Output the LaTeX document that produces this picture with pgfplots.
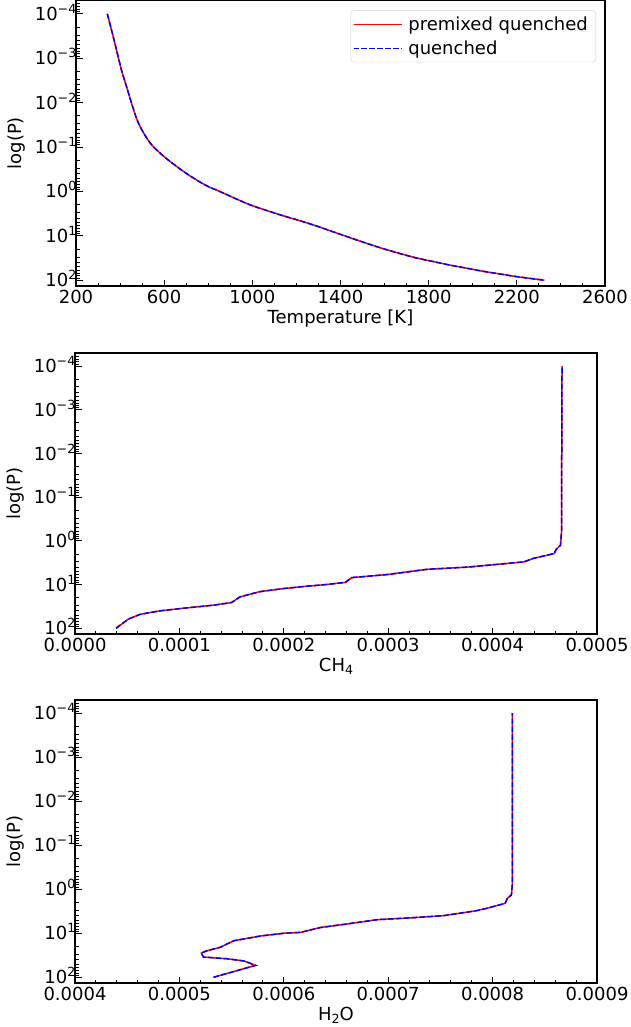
\documentclass[border=0pt]{standalone}
\usepackage{fontspec}
\setmainfont{DejaVu Sans}
\usepackage{pgfplots}
\pgfplotsset{compat=1.18}
\newcommand\tsup[1]{\raisebox{7pt}{\fontsize{12.6}{14}\selectfont #1}}
\newcommand\tsub[1]{\raisebox{-3.5pt}{\fontsize{12.6}{14}\selectfont #1}}
\newcommand\bigf{\fontsize{18}{21}\selectfont}
\tikzset{
  redline/.style={red, line width=1.5pt},
  blueline/.style={blue, line width=1.5pt, dash pattern=on 5.5pt off 2.4pt},
}
\pgfplotsset{
  every axis/.append style={
    scale only axis,
    ytick={1e-4,1e-3,1e-2,1e-1,1,10,100},
    yticklabels={10\tsup{−4},10\tsup{−3},10\tsup{−2},10\tsup{−1},10\tsup{0},10\tsup{1},10\tsup{2}},
    minor ytick={5e-5,6e-5,7e-5,8e-5,9e-5,
      2e-4,3e-4,4e-4,5e-4,6e-4,7e-4,8e-4,9e-4,
      2e-3,3e-3,4e-3,5e-3,6e-3,7e-3,8e-3,9e-3,
      2e-2,3e-2,4e-2,5e-2,6e-2,7e-2,8e-2,9e-2,
      0.2,0.3,0.4,0.5,0.6,0.7,0.8,0.9,
      2,3,4,5,6,7,8,9,
      20,30,40,50,60,70,80,90},
    tick align=inside, xtick pos=bottom, ytick pos=left,
    major tick length=6.5pt, minor tick length=3.5pt,
    every tick/.style={black, line width=1pt},
    axis line style={black, line width=1.1pt},
    scaled x ticks=false,
    tick label style={font=\bigf},
    xticklabel style={anchor=north, inner sep=0pt, yshift=-4pt},
    yticklabel style={anchor=base east, inner sep=0pt, xshift=0.5pt, yshift=-6.5pt},
    label style={font=\bigf},
    xlabel style={at={(axis description cs:0.5,0)}, anchor=north, inner sep=0pt, yshift=-23.5pt},
    ylabel={log(P)},
    ylabel style={anchor=south, inner sep=0pt},
  },
}
\begin{document}
\begin{tikzpicture}
\path[use as bounding box] (0pt,0pt) rectangle (630pt,-1027pt);
% ---------- Temperature ----------
\begin{axis}[
  ymode=log, y dir=reverse, ymin=5.0119e-5, ymax=1.35e2,
  at={(76pt,-286pt)}, anchor=south west,
  width=529pt, height=285.5pt,
  xmin=200, xmax=2600,
  xtick={200,600,1000,1400,1800,2200,2600},
  xticklabels={200,600,1000,1400,1800,2200,2600},
  minor x tick num=3,
  xlabel={Temperature [K]},
  ylabel style={at={(axis description cs:-0.0964,0.5)}},
  legend cell align=left,
  legend style={at={(0.983,0.965)}, anchor=north east, font=\bigf,
    draw=black!18, rounded corners=3pt, fill=white,
    inner xsep=2pt, inner ysep=4pt, row sep=5pt,
    nodes={inner xsep=6pt, inner ysep=2pt}},
  legend image code/.code={\draw (0pt,0pt) -- (39pt,0pt); \path (0pt,0pt) -- (48pt,0pt);},
]
\addplot[redline, smooth] coordinates {
(342,1e-4) (362,2.40e-4) (384.6,6.76e-4) (407,1.91e-3) (430,4.47e-3)
(453,1.07e-2) (478,2.51e-2) (505,4.68e-2) (543,8.91e-2) (589,0.148)
(641,0.240) (702,0.398) (763,0.617) (808,0.813) (838,0.933) (914,1.38)
(989,2.00) (1065,2.69) (1141,3.55) (1216,4.57) (1292,6.03) (1367,8.13)
(1443,11.0) (1519,14.8) (1594,19.5) (1670,25.1) (1745,31.6) (1821,38.0)
(1897,45.7) (1973,53.7) (2048,63.1) (2124,72.4) (2200,83.2) (2325,100)
};
\addlegendentry{premixed quenched}
\addplot[blueline, smooth] coordinates {
(342,1e-4) (362,2.40e-4) (384.6,6.76e-4) (407,1.91e-3) (430,4.47e-3)
(453,1.07e-2) (478,2.51e-2) (505,4.68e-2) (543,8.91e-2) (589,0.148)
(641,0.240) (702,0.398) (763,0.617) (808,0.813) (838,0.933) (914,1.38)
(989,2.00) (1065,2.69) (1141,3.55) (1216,4.57) (1292,6.03) (1367,8.13)
(1443,11.0) (1519,14.8) (1594,19.5) (1670,25.1) (1745,31.6) (1821,38.0)
(1897,45.7) (1973,53.7) (2048,63.1) (2124,72.4) (2200,83.2) (2325,100)
};
\addlegendentry{quenched}
\end{axis}
% ---------- CH4 ----------
\begin{axis}[
  ymode=log, y dir=reverse, ymin=5.0119e-5, ymax=1.35e2,
  at={(75pt,-634pt)}, anchor=south west,
  width=522pt, height=281pt,
  xmin=0, xmax=0.0005,
  xtick={0,0.0001,0.0002,0.0003,0.0004,0.0005},
  xticklabels={0.0000,0.0001,0.0002,0.0003,0.0004,0.0005},
  minor x tick num=4,
  xlabel={CH\tsub{4}},
  ylabel style={at={(axis description cs:-0.0977,0.5)}},
]
\addplot[redline] coordinates {
(3.93e-5,100) (5.1e-5,61.7) (6.23e-5,47.9) (8.15e-5,39.8) (1.04e-4,34.7)
(1.33e-4,29.5) (1.50e-4,25.7) (1.58e-4,19.1) (1.77e-4,14.5) (2.0e-4,12.3)
(2.2e-4,11.0) (2.4e-4,10.0) (2.59e-4,8.9) (2.65e-4,6.92) (2.99e-4,5.89)
(3.37e-4,4.47) (3.76e-4,3.98) (4.30e-4,3.02) (4.39e-4,2.51) (4.59e-4,1.95)
(4.61e-4,1.55) (4.65e-4,1.26) (4.66e-4,0.631) (4.665e-4,1e-4)
};
\addplot[blueline] coordinates {
(3.93e-5,100) (5.1e-5,61.7) (6.23e-5,47.9) (8.15e-5,39.8) (1.04e-4,34.7)
(1.33e-4,29.5) (1.50e-4,25.7) (1.58e-4,19.1) (1.77e-4,14.5) (2.0e-4,12.3)
(2.2e-4,11.0) (2.4e-4,10.0) (2.59e-4,8.9) (2.65e-4,6.92) (2.99e-4,5.89)
(3.37e-4,4.47) (3.76e-4,3.98) (4.30e-4,3.02) (4.39e-4,2.51) (4.59e-4,1.95)
(4.61e-4,1.55) (4.65e-4,1.26) (4.66e-4,0.631) (4.665e-4,1e-4)
};
\end{axis}
% ---------- H2O ----------
\begin{axis}[
  ymode=log, y dir=reverse, ymin=5.0119e-5, ymax=1.35e2,
  at={(75pt,-983pt)}, anchor=south west,
  width=522pt, height=283pt,
  xmin=0.0004, xmax=0.0009,
  xtick={0.0004,0.0005,0.0006,0.0007,0.0008,0.0009},
  xticklabels={0.0004,0.0005,0.0006,0.0007,0.0008,0.0009},
  minor x tick num=4,
  xlabel={H\tsub{2}O},
  ylabel style={at={(axis description cs:-0.0977,0.5)}},
]
\addplot[redline] coordinates {
(5.327e-4,100) (5.58e-4,67.6) (5.73e-4,53.7) (5.62e-4,42.7) (5.46e-4,38.0)
(5.23e-4,34.7) (5.21e-4,28.2) (5.26e-4,25.1) (5.39e-4,20.9) (5.52e-4,14.8)
(5.78e-4,11.5) (6.0e-4,10.0) (6.16e-4,9.55) (6.35e-4,7.41) (6.57e-4,6.31)
(6.90e-4,4.90) (7.21e-4,4.47) (7.53e-4,3.98) (7.84e-4,3.09) (7.95e-4,2.69)
(8.12e-4,2.09) (8.14e-4,1.62) (8.18e-4,1.35) (8.19e-4,0.724) (8.19e-4,1e-4)
};
\addplot[blueline] coordinates {
(5.327e-4,100) (5.58e-4,67.6) (5.73e-4,53.7) (5.62e-4,42.7) (5.46e-4,38.0)
(5.23e-4,34.7) (5.21e-4,28.2) (5.26e-4,25.1) (5.39e-4,20.9) (5.52e-4,14.8)
(5.78e-4,11.5) (6.0e-4,10.0) (6.16e-4,9.55) (6.35e-4,7.41) (6.57e-4,6.31)
(6.90e-4,4.90) (7.21e-4,4.47) (7.53e-4,3.98) (7.84e-4,3.09) (7.95e-4,2.69)
(8.12e-4,2.09) (8.14e-4,1.62) (8.18e-4,1.35) (8.19e-4,0.724) (8.19e-4,1e-4)
};
\end{axis}
\end{tikzpicture}
\end{document}
